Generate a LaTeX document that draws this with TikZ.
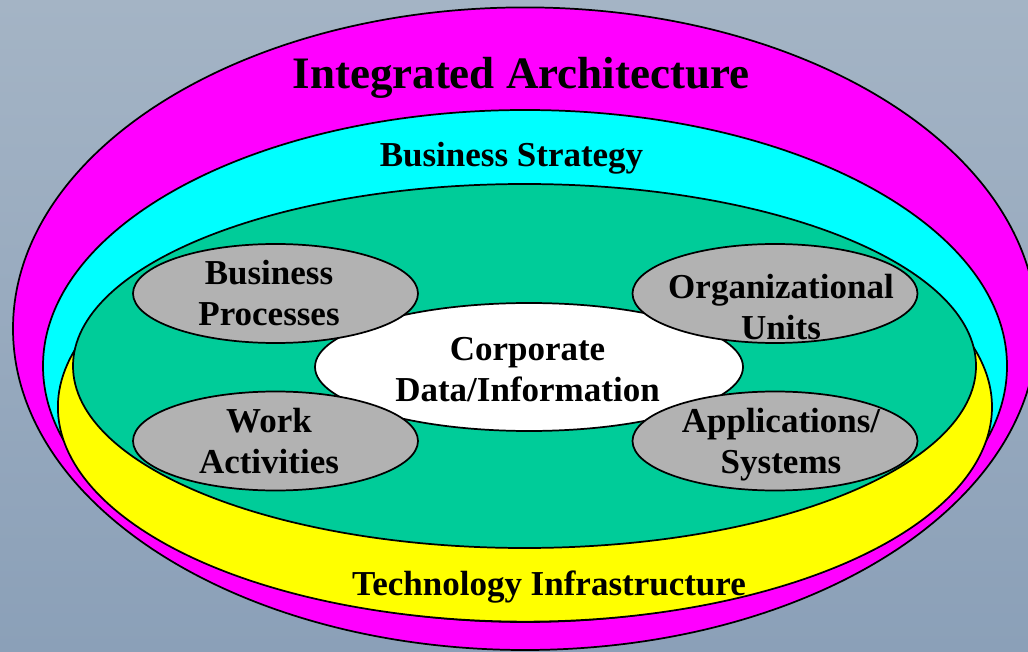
\documentclass[tikz,border=0pt]{standalone}
\usepackage{fontspec}
\setmainfont{Liberation Serif}
\definecolor{bgtop}{RGB}{164,180,197}
\definecolor{bgbot}{RGB}{139,160,184}
\definecolor{ringmag}{RGB}{255,0,255}
\definecolor{ringcyan}{RGB}{0,255,255}
\definecolor{ringyel}{RGB}{255,255,0}
\definecolor{ringgreen}{RGB}{0,204,153}
\definecolor{blobgray}{RGB}{178,178,178}
\begin{document}
\begin{tikzpicture}[x=0.75pt,y=-0.75pt,
  ring/.style={draw=black,line width=1.3pt},
  lab/.style={font=\fontsize{26.25}{30.75}\selectfont\bfseries,inner sep=0pt,anchor=base},
  biglab/.style={font=\fontsize{33.75}{40}\selectfont\bfseries,inner sep=0pt,anchor=base}]
\useasboundingbox (0,0) rectangle (1028,652);
\clip (0,0) rectangle (1028,652);
\shade[top color=bgtop,bottom color=bgbot] (0pt,0pt) rectangle (771pt,-489pt);
% layers
\path[ring,fill=ringmag] (525,328.7) ellipse [x radius=512,y radius=321.3];
\path[ring,fill=ringcyan] (525,366) ellipse [x radius=482,y radius=256];
\path[ring,fill=ringyel] (525,407) ++(196:467 and 214.6)
  arc[start angle=196,end angle=-16,x radius=467,y radius=214.6] -- cycle;
\path[ring,fill=ringgreen] (524.5,366) ellipse [x radius=451.5,y radius=182];
\path[ring,fill=white] (529,367) ellipse [x radius=214,y radius=64];
\path[ring,fill=blobgray] (275.5,293.5) ellipse [x radius=142.5,y radius=49.5];
\path[ring,fill=blobgray] (275.5,441) ellipse [x radius=142.5,y radius=49.5];
\path[ring,fill=blobgray] (775,293.5) ellipse [x radius=142.5,y radius=49.5];
\path[ring,fill=blobgray] (775,441) ellipse [x radius=142.5,y radius=49.5];
% labels
\node[biglab] (title) at (521,89) {Integrated Architecture};
\node[lab] (strategy) at (511.5,167) {Business Strategy};
\node[lab] (tech) at (549,595) {Technology Infrastructure};
\node[lab] (bp) at (269,285) {\begin{tabular}[t]{@{}c@{}}Business\\Processes\end{tabular}};
\node[lab] (wa) at (269,432) {\begin{tabular}[t]{@{}c@{}}Work\\Activities\end{tabular}};
\node[lab] (ou) at (781,299) {\begin{tabular}[t]{@{}c@{}}Organizational\\Units\end{tabular}};
\node[lab] (as) at (781,432) {\begin{tabular}[t]{@{}c@{}}Applications/\\Systems\end{tabular}};
\node[lab] (cd) at (527.5,360) {\begin{tabular}[t]{@{}c@{}}Corporate\\Data/Information\end{tabular}};
\end{tikzpicture}
\end{document}
